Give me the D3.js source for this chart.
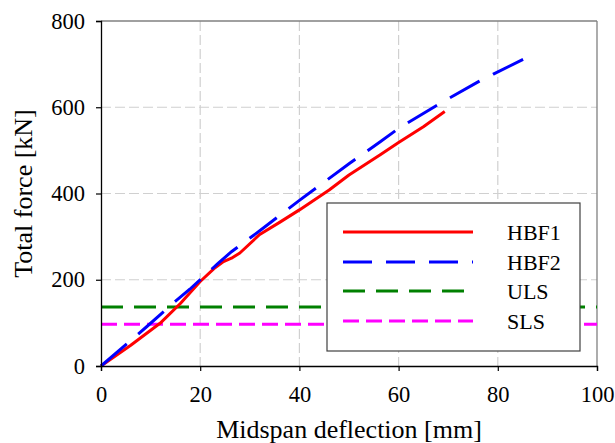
<!DOCTYPE html>
<html><head><meta charset="utf-8">
<script src="https://cdn.jsdelivr.net/npm/d3@7"></script>
<style>body{margin:0;background:#fff}svg{display:block}text{font-family:"Liberation Serif","Times New Roman",serif;fill:#000}</style>
</head><body><svg id="c" width="615" height="443"></svg>
<script>
const hbf1X = [0, 6, 11.9, 16, 20, 23, 24.7, 26.3, 28, 32, 36, 40, 46, 50, 56.3, 60, 65, 69.3];
const hbf1Y = [0, 48, 99, 145, 196, 228, 242, 250, 262, 305, 333, 362, 408, 443, 490, 518, 555, 590];
const hbf2X = [0, 9.2, 14.9, 17.9, 23.6, 26.3, 32.4, 40, 50, 56.3, 60, 67.5, 70.2, 76.2, 79.1, 85.1];
const hbf2Y = [0, 91, 149, 178, 238, 265, 317, 384, 469, 520, 551, 603, 621, 660, 677, 711];
const ulsValue = 137;
const slsValue = 97;
const xTicks = [0, 20, 40, 60, 80, 100];
const yTicks = [0, 200, 400, 600, 800];
const seriesNames = ["HBF1", "HBF2", "ULS", "SLS"];
const xTitle = "Midspan deflection [mm]";
const yTitle = "Total force [kN]";

const L = 101, R = 597, T = 21, B = 366;
const svg = d3.select("#c");
const x = d3.scaleLinear().domain([0, 100]).range([L, R]);
const y = d3.scaleLinear().domain([0, 800]).range([B, T]);
const FS_TICK = 22.5, FS_TITLE = 26, FS_LEG = 22;

// grid
const g = svg.append("g");
g.selectAll(".gx").data(xTicks.filter(d => d > 0 && d < 100)).enter().append("line")
  .attr("x1", d => x(d)).attr("x2", d => x(d)).attr("y1", T).attr("y2", B)
  .attr("stroke", "#d0d0d0").attr("stroke-width", 1.2).attr("stroke-dasharray", "10,4");
g.selectAll(".gy").data(yTicks.filter(d => d > 0 && d < 800)).enter().append("line")
  .attr("x1", L).attr("x2", R).attr("y1", d => y(d)).attr("y2", d => y(d))
  .attr("stroke", "#d0d0d0").attr("stroke-width", 1.2).attr("stroke-dasharray", "10,4");

// frame top/right
svg.append("line").attr("x1", L).attr("x2", R).attr("y1", T).attr("y2", T).attr("stroke", "#808080").attr("stroke-width", 1.3);
svg.append("line").attr("x1", R).attr("x2", R).attr("y1", T).attr("y2", B).attr("stroke", "#808080").attr("stroke-width", 1.3);

// series
const line = d3.line().x(d => x(d[0])).y(d => y(d[1]));
const d1 = hbf1X.map((v, i) => [v, hbf1Y[i]]);
const d2 = hbf2X.map((v, i) => [v, hbf2Y[i]]);
const styles = [
  {c: "#ff0000", dash: null, plotDash: null},
  {c: "#0000ff", dash: "29,14", plotDash: "34,15"},
  {c: "#008000", dash: "22,11", plotDash: "22,11"},
  {c: "#ff00ff", dash: "16,7", plotDash: "16,7"}
];
svg.append("path").attr("d", line([[0, ulsValue], [100, ulsValue]])).attr("fill", "none")
  .attr("stroke", styles[2].c).attr("stroke-width", 3).attr("stroke-dasharray", styles[2].plotDash);
svg.append("path").attr("d", line([[0, slsValue], [100, slsValue]])).attr("fill", "none")
  .attr("stroke", styles[3].c).attr("stroke-width", 3).attr("stroke-dasharray", styles[3].plotDash);
svg.append("path").attr("d", line(d1)).attr("fill", "none").attr("stroke", styles[0].c).attr("stroke-width", 3).attr("stroke-linejoin", "round");
svg.append("path").attr("d", line(d2)).attr("fill", "none").attr("stroke", styles[1].c).attr("stroke-width", 3).attr("stroke-dasharray", styles[1].plotDash);

// axes
const xa = svg.append("g").attr("transform", `translate(0,${B})`).call(d3.axisBottom(x).tickValues(xTicks).tickSize(5).tickPadding(15));
const ya = svg.append("g").attr("transform", `translate(${L},0)`).call(d3.axisLeft(y).tickValues(yTicks).tickSize(5).tickPadding(11));
[xa, ya].forEach(a => {
  a.select(".domain").attr("stroke", "#000").attr("stroke-width", 1.3);
  a.selectAll(".tick line").attr("stroke", "#000").attr("stroke-width", 1.2);
  a.selectAll("text").attr("font-size", FS_TICK).attr("font-family", "Liberation Serif");
});

svg.append("text").attr("x", (L + R) / 2 + 0).attr("y", 438).attr("text-anchor", "middle").attr("font-size", FS_TITLE).text(xTitle);
svg.append("text").attr("transform", `translate(32,${(T + B) / 2}) rotate(-90)`).attr("text-anchor", "middle").attr("font-size", FS_TITLE).text(yTitle);

// legend
const lg = svg.append("g");
lg.append("rect").attr("x", 327).attr("y", 203).attr("width", 253).attr("height", 148)
  .attr("fill", "#fff").attr("stroke", "#404040").attr("stroke-width", 1.2);
const rows = [232, 262, 291, 321];
seriesNames.forEach((n, i) => {
  lg.append("line").attr("x1", 343).attr("x2", 473).attr("y1", rows[i]).attr("y2", rows[i])
    .attr("stroke", styles[i].c).attr("stroke-width", 3).attr("stroke-dasharray", styles[i].dash);
  lg.append("text").attr("x", 507).attr("y", rows[i]).attr("dy", "0.35em").attr("font-size", FS_LEG).text(n);
});
</script></body></html>
